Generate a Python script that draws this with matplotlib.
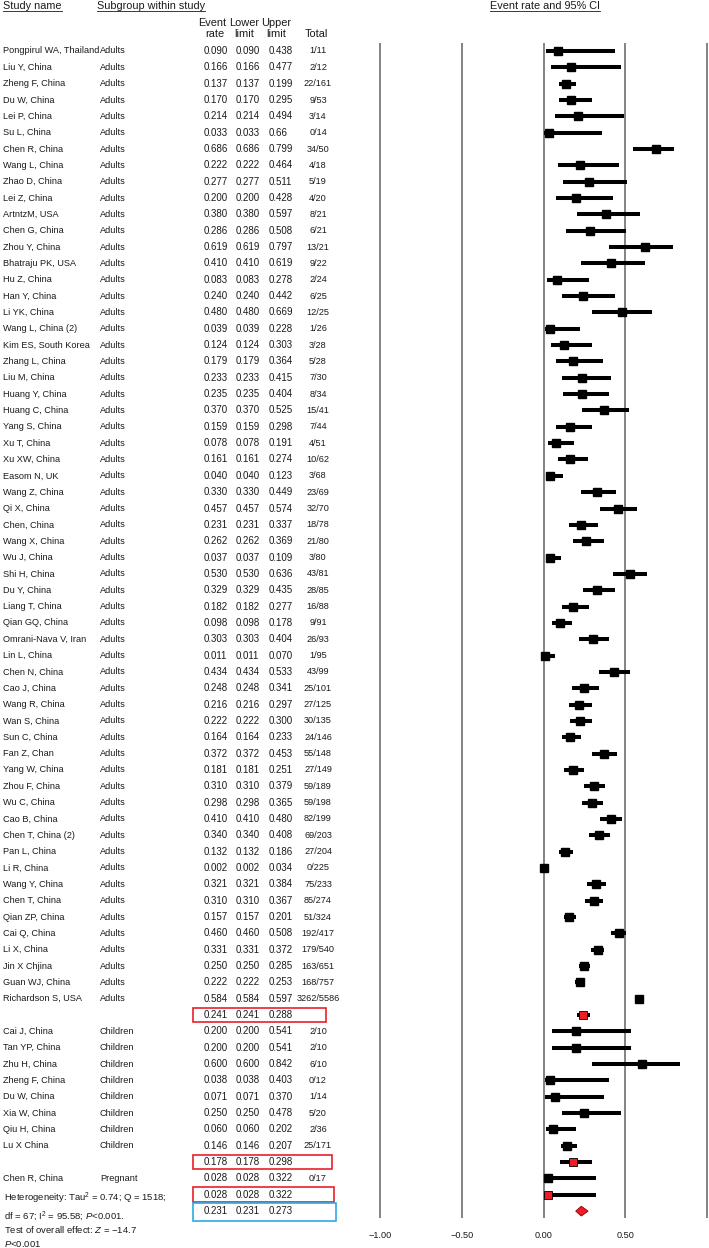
import matplotlib.pyplot as plt
from matplotlib.lines import Line2D
from matplotlib.patches import Rectangle, Polygon

plt.rcParams['font.family'] = ['Liberation Sans', 'DejaVu Sans']
plt.rcParams['mathtext.fontset'] = 'custom'
plt.rcParams['mathtext.rm'] = 'Liberation Sans'
plt.rcParams['mathtext.it'] = 'Liberation Sans:italic'

# ─── data ─────────────────────────────────────────────
names = [
    "Pongpirul WA, Thailand", "Liu Y, China", "Zheng F, China", "Du W, China", "Lei P, China",
    "Su L, China", "Chen R, China", "Wang L, China", "Zhao D, China", "Lei Z, China",
    "ArtntzM, USA", "Chen G, China", "Zhou Y, China", "Bhatraju PK, USA", "Hu Z, China",
    "Han Y, China", "Li YK, China", "Wang L, China (2)", "Kim ES, South Korea", "Zhang L, China",
    "Liu M, China", "Huang Y, China", "Huang C, China", "Yang S, China", "Xu T, China",
    "Xu XW, China", "Easom N, UK", "Wang Z, China", "Qi X, China", "Chen, China",
    "Wang X, China", "Wu J, China", "Shi H, China", "Du Y, China", "Liang T, China",
    "Qian GQ, China", "Omrani-Nava V, Iran", "Lin L, China", "Chen N, China", "Cao J, China",
    "Wang R, China", "Wan S, China", "Sun C, China", "Fan Z, Chan", "Yang W, China",
    "Zhou F, China", "Wu C, China", "Cao B, China", "Chen T, China (2)", "Pan L, China",
    "Li R, China", "Wang Y, China", "Chen T, China", "Qian ZP, China", "Cai Q, China",
    "Li X, China", "Jin X Chjina", "Guan WJ, China", "Richardson S, USA",
    "Cai J, China", "Tan YP, China", "Zhu H, China", "Zheng F, China", "Du W, China",
    "Xia W, China", "Qiu H, China", "Lu X China",
    "Chen R, China",
]
subgroups = ["Adults"] * 59 + ["Children"] * 8 + ["Pregnant"]

rate_txt = [
    "0.090", "0.166", "0.137", "0.170", "0.214", "0.033", "0.686", "0.222", "0.277", "0.200",
    "0.380", "0.286", "0.619", "0.410", "0.083", "0.240", "0.480", "0.039", "0.124", "0.179",
    "0.233", "0.235", "0.370", "0.159", "0.078", "0.161", "0.040", "0.330", "0.457", "0.231",
    "0.262", "0.037", "0.530", "0.329", "0.182", "0.098", "0.303", "0.011", "0.434", "0.248",
    "0.216", "0.222", "0.164", "0.372", "0.181", "0.310", "0.298", "0.410", "0.340", "0.132",
    "0.002", "0.321", "0.310", "0.157", "0.460", "0.331", "0.250", "0.222", "0.584",
    "0.200", "0.200", "0.600", "0.038", "0.071", "0.250", "0.060", "0.146",
    "0.028",
]
lower_txt = list(rate_txt)  # the table repeats the event rate in "Lower limit"
upper_txt = [
    "0.438", "0.477", "0.199", "0.295", "0.494", "0.66", "0.799", "0.464", "0.511", "0.428",
    "0.597", "0.508", "0.797", "0.619", "0.278", "0.442", "0.669", "0.228", "0.303", "0.364",
    "0.415", "0.404", "0.525", "0.298", "0.191", "0.274", "0.123", "0.449", "0.574", "0.337",
    "0.369", "0.109", "0.636", "0.435", "0.277", "0.178", "0.404", "0.070", "0.533", "0.341",
    "0.297", "0.300", "0.233", "0.453", "0.251", "0.379", "0.365", "0.480", "0.408", "0.186",
    "0.034", "0.384", "0.367", "0.201", "0.508", "0.372", "0.285", "0.253", "0.597",
    "0.541", "0.541", "0.842", "0.403", "0.370", "0.478", "0.202", "0.207",
    "0.322",
]
totals = [
    "1/11", "2/12", "22/161", "9/53", "3/14", "0/14", "34/50", "4/18", "5/19", "4/20",
    "8/21", "6/21", "13/21", "9/22", "2/24", "6/25", "12/25", "1/26", "3/28", "5/28",
    "7/30", "8/34", "15/41", "7/44", "4/51", "10/62", "3/68", "23/69", "32/70", "18/78",
    "21/80", "3/80", "43/81", "28/85", "16/88", "9/91", "26/93", "1/95", "43/99", "25/101",
    "27/125", "30/135", "24/146", "55/148", "27/149", "59/189", "59/198", "82/199", "69/203", "27/204",
    "0/225", "75/233", "85/274", "51/324", "192/417", "179/540", "163/651", "168/757", "3262/5586",
    "2/10", "2/10", "6/10", "0/12", "1/14", "5/20", "2/36", "25/171",
    "0/17",
]
# whisker ends as drawn in the plot
ci_lo = [
    0.014, 0.043, 0.095, 0.095, 0.071, 0.006, 0.545, 0.087, 0.122, 0.077,
    0.203, 0.136, 0.402, 0.230, 0.022, 0.114, 0.299, 0.012, 0.045, 0.077,
    0.116, 0.122, 0.238, 0.077, 0.030, 0.091, 0.014, 0.230, 0.343, 0.154,
    0.179, 0.016, 0.423, 0.240, 0.116, 0.053, 0.220, 0.002, 0.341, 0.175,
    0.154, 0.160, 0.114, 0.299, 0.128, 0.250, 0.238, 0.343, 0.278, 0.095,
    0.000, 0.264, 0.254, 0.124, 0.410, 0.293, 0.220, 0.195, 0.571,
    0.053, 0.053, 0.299, 0.008, 0.012, 0.112, 0.018, 0.104,
    0.004,
]
ci_hi = [
    0.435, 0.474, 0.197, 0.295, 0.490, 0.360, 0.797, 0.463, 0.508, 0.425,
    0.593, 0.506, 0.795, 0.618, 0.278, 0.437, 0.665, 0.226, 0.299, 0.362,
    0.413, 0.402, 0.522, 0.295, 0.187, 0.272, 0.120, 0.445, 0.571, 0.335,
    0.368, 0.110, 0.632, 0.435, 0.276, 0.177, 0.400, 0.069, 0.528, 0.341,
    0.295, 0.297, 0.232, 0.449, 0.248, 0.378, 0.362, 0.478, 0.404, 0.183,
    0.034, 0.382, 0.366, 0.200, 0.506, 0.370, 0.283, 0.248, 0.597,
    0.537, 0.537, 0.837, 0.400, 0.368, 0.476, 0.199, 0.205,
    0.319,
]

# subgroup summaries (Adults, Children, Pregnant)
sum_rate = [0.241, 0.178, 0.028]
sum_up_txt = ["0.288", "0.298", "0.322"]
sum_lo_plot = [0.203, 0.100, 0.004]
sum_hi_plot = [0.283, 0.295, 0.319]

# overall
overall_rate = 0.231
overall_up = 0.273
overall_lo_plot = 0.197

group_sizes = [59, 8, 1]

# ─── row layout ───────────────────────────────────────
study_rows, summary_rows = [], []
r = 1
for n in group_sizes:
    study_rows += list(range(r, r + n))
    r += n
    summary_rows.append(r)
    r += 1
overall_row = r

W, H = 709, 1248
ROW0, DROW = 51, 16.34          # pixel y of row 1, row pitch
TOP, BOT = 43, 1218            # pixel extent of the plot lines
ytop = 1 + (TOP - ROW0) / DROW
ybot = 1 + (BOT - ROW0) / DROW

fig = plt.figure(figsize=(W / 100, H / 100), dpi=100)
fig.patch.set_facecolor('white')
axb = 1 - BOT / H
axh = (BOT - TOP) / H

# ─── left table ──
axt = fig.add_axes([0, axb, 370 / W, axh])
axt.set_xlim(0, 370)
axt.set_ylim(ybot, ytop)
axt.axis('off')

txt_c = '#1a1a1a'
fs_name, fs_num = 6.6, 7.0
for k, row in enumerate(study_rows):
    axt.text(3, row, names[k], fontsize=fs_name, color=txt_c, va='center')
    axt.text(100, row, subgroups[k], fontsize=fs_name, color=txt_c, va='center')
    axt.text(204, row, rate_txt[k], fontsize=fs_num, color=txt_c, va='center')
    axt.text(236, row, lower_txt[k], fontsize=fs_num, color=txt_c, va='center')
    axt.text(269, row, upper_txt[k], fontsize=fs_num, color=txt_c, va='center')
    axt.text(318, row, totals[k], fontsize=fs_name, color=txt_c, va='center', ha='center')

for k, row in enumerate(summary_rows):
    axt.text(204, row, f"{sum_rate[k]:.3f}", fontsize=fs_num, color=txt_c, va='center')
    axt.text(236, row, f"{sum_rate[k]:.3f}", fontsize=fs_num, color=txt_c, va='center')
    axt.text(269, row, sum_up_txt[k], fontsize=fs_num, color=txt_c, va='center')
axt.text(204, overall_row, f"{overall_rate:.3f}", fontsize=fs_num, color=txt_c, va='center')
axt.text(236, overall_row, f"{overall_rate:.3f}", fontsize=fs_num, color=txt_c, va='center')
axt.text(269, overall_row, f"{overall_up:.3f}", fontsize=fs_num, color=txt_c, va='center')

# highlight boxes
box_w = [133, 139, 141]
for k, row in enumerate(summary_rows):
    axt.add_patch(Rectangle((193, row - 0.45), box_w[k], 0.9, fill=False,
                            edgecolor='#e8202a', lw=1.2, clip_on=False))
axt.add_patch(Rectangle((193, overall_row - 0.52), 143, 1.1, fill=False,
                        edgecolor='#29abe2', lw=1.2, clip_on=False))

# footer
fy = [71.2, 72.3, 73.15, 74.0]
axt.text(4, fy[0], "Heterogeneity: Tau$^2$ = 0.74; Q = 1518;", fontsize=6.8, color=txt_c,
         va='center', clip_on=False)
axt.text(4, fy[1], "df = 67; I$^2$ = 95.58; $P$<0.001.", fontsize=6.8, color=txt_c,
         va='center', clip_on=False)
axt.text(4, fy[2], "Test of overall effect: $Z$ = \u221214.7", fontsize=6.8, color=txt_c,
         va='center', clip_on=False)
axt.text(4, fy[3], "$P$<0.001", fontsize=6.8, color=txt_c, va='center', clip_on=False)

# ─── forest plot ──
ax = fig.add_axes([370 / W, axb, 339 / W, axh])
ax.set_xlim(-1.0612, 1.0122)
ax.set_ylim(ybot, ytop)
for s in ax.spines.values():
    s.set_visible(False)
ax.set_yticks([])
ticks = [-1.0, -0.5, 0.0, 0.5]
ax.set_xticks(ticks)
ax.set_xticklabels(["\u22121.00", "\u22120.50", "0.00", "0.50"], fontsize=6.6, color=txt_c)
ax.tick_params(axis='x', length=0, pad=9)
for v in [-1.0, -0.5, 0.0, 0.5, 1.0]:
    ax.axvline(v, color='#6e6e6e', lw=1.2, zorder=1)

rates = [float(t) for t in rate_txt]
ax.hlines(study_rows, ci_lo, ci_hi, color='black', lw=2.9, zorder=2)
ax.plot(rates, study_rows, 's', ms=6, color='black', zorder=3)

ax.hlines(summary_rows, sum_lo_plot, sum_hi_plot, color='black', lw=2.9, zorder=2)
ax.plot(sum_rate, summary_rows, 's', ms=5.3, mfc='#ee1c24', mec='black', mew=0.6, zorder=3)

dh = 0.3
ax.add_patch(Polygon([(overall_lo_plot, overall_row), (overall_rate, overall_row - dh),
                      (overall_up, overall_row), (overall_rate, overall_row + dh)],
                     closed=True, facecolor='#ee1c24', edgecolor='#8b0000', lw=0.6, zorder=3))

# ─── headers (underlined) ──
def fig_text(xp, yp, s, fs, ha='left'):
    return fig.text(xp / W, 1 - yp / H, s, fontsize=fs, ha=ha, va='baseline', color=txt_c)

hdr = [
    fig_text(3, 9, "Study name", 7.8),
    fig_text(97, 9, "Subgroup within study", 7.8),
    fig_text(545, 9, "Event rate and 95% CI", 7.8, ha='center'),
]
fig_text(212, 26, "Event", 7.9, ha='center')
fig_text(244, 26, "Lower", 7.9, ha='center')
fig_text(276, 26, "Upper", 7.9, ha='center')
fig_text(215, 37, "rate", 7.9, ha='center')
fig_text(244, 37, "limit", 7.9, ha='center')
fig_text(276, 37, "limit", 7.9, ha='center')
fig_text(316, 37, "Total", 7.9, ha='center')

fig.canvas.draw()
rend = fig.canvas.get_renderer()
for t in hdr:
    bb = t.get_window_extent(rend)
    yl = (H - 10.5) / H
    fig.add_artist(Line2D([bb.x0 / W, bb.x1 / W], [yl, yl], color=txt_c, lw=0.6))

fig.savefig("out.png", dpi=100, facecolor='white')
